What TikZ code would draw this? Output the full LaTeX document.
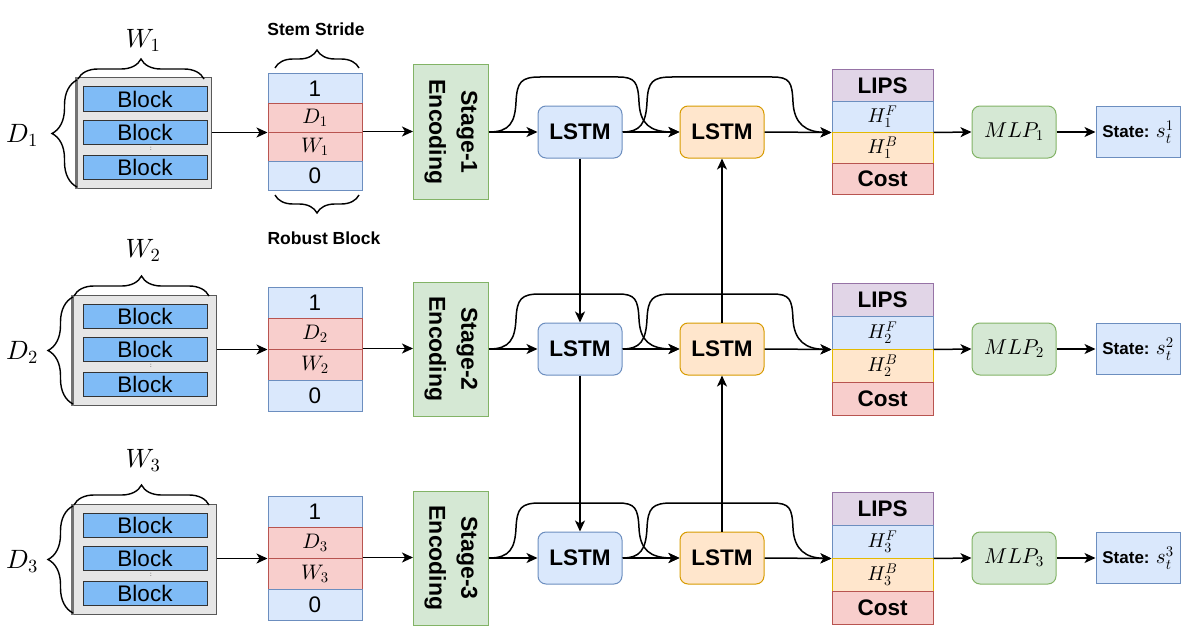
\documentclass[tikz,border=0pt]{standalone}
\usepackage{amsmath}
\usepackage[no-math]{fontspec}
\setmainfont{Liberation Sans}
\DeclareFontShape{OML}{cmm}{m}{it}{<-6>cmmi5<6-8>cmmi7<8->cmmi10}{}
\DeclareFontShape{OT1}{cmr}{m}{n}{<-6>cmr5<6-8>cmr7<8->cmr10}{}
\DeclareFontShape{OMS}{cmsy}{m}{n}{<-6>cmsy5<6-8>cmsy7<8->cmsy10}{}
\usetikzlibrary{arrows.meta,decorations.pathreplacing}
\definecolor{blkblue}{HTML}{7FBBF6}
\definecolor{lblue}{HTML}{DAE8FC}
\definecolor{dblue}{HTML}{6C8EBF}
\definecolor{lred}{HTML}{F8CECC}
\definecolor{dred}{HTML}{B85450}
\definecolor{lgreen}{HTML}{D5E8D4}
\definecolor{dgreen}{HTML}{82B366}
\definecolor{lorange}{HTML}{FFE6CC}
\definecolor{dorange}{HTML}{D79B00}
\definecolor{lpurple}{HTML}{E1D5E7}
\definecolor{dpurple}{HTML}{9673A6}
\definecolor{lgray}{HTML}{E6E6E6}
\newcommand\fsz[1]{\fontsize{#1}{#1}\selectfont}
\begin{document}
\begin{tikzpicture}[x=1pt,y=-1pt,
  arr/.style={line width=1.5pt, -{Stealth[length=11pt,width=10pt,inset=3pt]}},
  brc/.style={decorate, decoration={brace, amplitude=#1}, line width=1.4pt},
  cont/.style={draw=black!65, fill=lgray, line width=1pt, inner sep=0},
  blk/.style={draw=black!80, fill=blkblue, line width=1pt, minimum width=124, minimum height=24, inner sep=0, font=\fsz{22.5}},
  cellB/.style={draw=dblue, fill=lblue, line width=1pt, minimum width=94, inner sep=0, font=\fsz{22.5}},
  cellR/.style={draw=dred, fill=lred, line width=1pt, minimum width=94, inner sep=0, font=\fsz{21}},
  stg/.style={draw=dgreen, fill=lgreen, line width=1pt, rotate=-90, minimum width=134, minimum height=75, inner sep=0, align=center, font=\fontsize{23}{32}\selectfont\bfseries},
  lstmA/.style={draw=dblue, fill=lblue, line width=1pt, rounded corners=8, minimum width=84, minimum height=52, inner sep=0, font=\fsz{22.5}\bfseries},
  lstmB/.style={draw=dorange, fill=lorange, line width=1pt, rounded corners=8, minimum width=84, minimum height=52, inner sep=0, font=\fsz{22.5}\bfseries},
  oP/.style={draw=dpurple, fill=lpurple, line width=1pt, minimum width=101, inner sep=0, font=\fsz{22.5}\bfseries},
  oF/.style={draw=dblue, fill=lblue, line width=1pt, minimum width=101, inner sep=0, font=\fsz{20}},
  oB/.style={draw=dorange!70!yellow, fill=lorange, line width=1pt, minimum width=101, inner sep=0, font=\fsz{20}},
  oC/.style={draw=dred, fill=lred, line width=1pt, minimum width=101, inner sep=0, font=\fsz{22.5}\bfseries},
  mlpbox/.style={draw=dgreen, fill=lgreen, line width=1pt, rounded corners=8, minimum width=84, minimum height=52, inner sep=0, font=\fsz{21.5}},
  statebox/.style={draw=dblue, fill=lblue, line width=1pt, minimum width=84, minimum height=51, inner sep=0, font=\fsz{17}\bfseries},
  lbl/.style={inner sep=0, font=\fsz{26.5}},
  captext/.style={inner sep=0, font=\fsz{17.5}\bfseries}
]
\useasboundingbox (0,0) rectangle (1181,626);

\foreach \r/\y/\sc/\oc/\gl/\gr/\wy in {1/132/29/31/77/211/40, 2/349/31/33/73/216/250, 3/558/31/33/73/216/460}{
  % block container
  \node[cont, minimum width={\gr-\gl}, minimum height=110] (cont\r) at ({(\gl+\gr)/2},\y+1) {};
  \draw[draw=black!55, line width=2.5pt] (cont\r.north west) -- (cont\r.south west);
  \node[blk] (bA\r) at (145,\y-33) {Block};
  \node[blk] (bB\r) at (145,\y) {Block};
  \node[blk] (bC\r) at (145,\y+35) {Block};
  \node[inner sep=0, font=\fsz{6}] (dot\r) at (151,\y+17) {:};
  \draw[brc=20pt] (\gl+1,\y-53) -- (\gr-7,\y-53);
  \node[lbl] (W\r) at (143,\wy) {$W_{\r}$};
  \draw[brc=25pt] (\gl,\y+55) -- (\gl,\y-52);
  \node[lbl] (D\r) at (22,\y+3) {$D_{\r}$};
  % stride column
  \node[cellB, minimum height=\sc] (sO\r) at (315,{\y-1.5*\sc}) {1};
  \node[cellR, minimum height=\sc] (sD\r) at (315,{\y-0.5*\sc}) {$D_{\r}$};
  \node[cellR, minimum height=\sc] (sW\r) at (315,{\y+0.5*\sc}) {$W_{\r}$};
  \node[cellB, minimum height=\sc] (sZ\r) at (315,{\y+1.5*\sc}) {0};
  % stage
  \node[stg] (stage\r) at (451,\y) {Stage-\r\\Encoding};
  % LSTMs
  \node[lstmA] (la\r) at (580,\y) {LSTM};
  \node[lstmB] (lb\r) at (722,\y) {LSTM};
  % output stack
  \node[oP, minimum height=\oc] (oP\r) at (882.5,{\y-1.5*\oc}) {LIPS};
  \node[oF, minimum height=\oc] (oF\r) at (882.5,{\y-0.5*\oc}) {$H_{\r}^{F}$};
  \node[oB, minimum height=\oc] (oB\r) at (882.5,{\y+0.5*\oc}) {$H_{\r}^{B}$};
  \node[oC, minimum height=\oc] (oC\r) at (882.5,{\y+1.5*\oc}) {Cost};
  \node[mlpbox] (mlp\r) at (1014,\y) {$MLP_{\r}$};
  \node[statebox] (st\r) at (1138,\y) {State: {\mdseries\fsz{21}$s_t^{\r}$}};
  % connectors
  \draw[arr] (cont\r.east |- sD\r.south west) -- (sD\r.south west);
  \draw[arr] (sW\r.north east) -- (sW\r.north east -| stage\r.south);
  \draw[arr] (stage\r.north) -- (la\r.west);
  \draw[arr] (la\r.east) -- (lb\r.west);
  \draw[arr] (lb\r.east) -- (oF\r.south west);
  \draw[arr] (oF\r.south east) -- (mlp\r.west);
  \draw[arr] (mlp\r.east) -- (st\r.west);
  \draw[arr] (stage\r.north) .. controls (510,\y) and (515,\y-10) .. (516,\y-30)
      .. controls (517,\y-50) and (521,\y-55) .. (540,\y-55) -- (618,\y-55)
      .. controls (635,\y-55) and (638,\y-50) .. (639,\y-30)
      .. controls (640,\y-8) and (650,\y) .. (lb\r.west);
  \draw[arr] (la\r.east) .. controls (640,\y) and (646,\y-8) .. (647,\y-30)
      .. controls (648,\y-50) and (652,\y-55) .. (672,\y-55) -- (772,\y-55)
      .. controls (790,\y-55) and (792,\y-50) .. (793,\y-30)
      .. controls (794,\y-8) and (806,\y) .. (oF\r.south west);
}
\node[captext] (stem) at (316,29) {Stem Stride};
\node[captext] (robust) at (324,238) {Robust Block};
\draw[brc=18pt] (275,68) -- (359,68);
\draw[brc=18pt] (359,195) -- (275,195);
% vertical links
\draw[arr] (la1.south) -- (la2.north);
\draw[arr] (la2.south) -- (la3.north);
\draw[arr] (lb3.north) -- (lb2.south);
\draw[arr] (lb2.north) -- (lb1.south);
\end{tikzpicture}
\end{document}
